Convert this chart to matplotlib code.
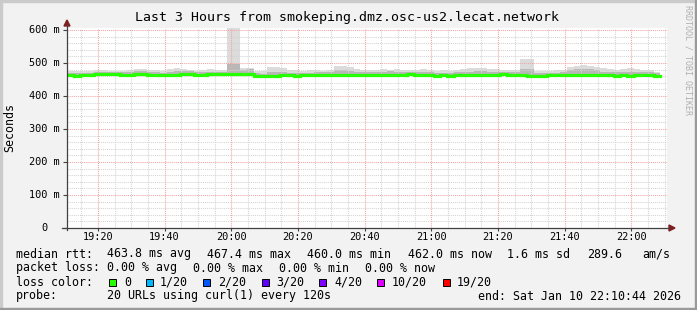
import numpy as np
import matplotlib
matplotlib.use("Agg")
import matplotlib.pyplot as plt
from matplotlib.patches import Polygon, Rectangle
from matplotlib.lines import Line2D

# %%
# data (ms), one value per 2 minute step, starting 19:10:44
medianMs = [
    462.5, 462.0, 463.0, 463.5,
    466.0, 466.0, 465.5, 466.0, 465.0, 465.0, 465.5, 466.0, 465.0, 465.0,
    464.5, 464.0, 465.0, 465.5, 466.0, 465.0, 465.0, 465.5, 466.0,
    466.0, 467.4, 467.0, 466.0, 465.5,
    461.0, 460.0, 460.5, 461.0,
    462.5, 463.0, 462.0, 462.5, 463.0, 464.0, 464.0, 465.0, 465.0, 464.5,
    465.0, 464.5,
    464.0, 464.5, 465.0, 464.0, 463.5, 464.0, 465.0, 465.5, 465.0, 464.5,
    464.0,
    462.0, 462.5, 462.0, 462.5,
    464.0, 464.5, 465.0, 465.0, 464.5, 465.0, 465.5, 465.0, 464.5, 465.0,
    462.0, 461.5, 462.0, 462.5,
    463.5, 464.0, 463.5, 462.5, 462.5, 463.0, 462.5, 464.0, 464.5,
    462.0, 462.5, 462.0,
    464.0, 464.5, 463.0, 460.0,
]

smokeLoMs = [
    458, 458, 459, 459,
    461, 461, 461, 462, 460, 460, 461, 461, 460, 460, 459, 459, 460, 461,
    461, 460, 460, 461, 461,
    461, 462, 462, 461, 460,
    455, 454, 455, 456,
    458, 458, 457, 458, 459, 459, 460, 460, 460, 460, 460, 460,
    459, 460, 460, 459, 459, 459, 460, 461, 460, 460, 459,
    457, 457, 457, 458,
    459, 460, 460, 460, 460, 460, 461, 460, 460, 460,
    456, 455, 456, 457,
    459, 459, 459, 458, 458, 458, 458, 459, 460,
    457, 458, 457,
    459, 460, 458, 455,
]

smokeHiMs = [
    477, 476, 475, 476,
    478, 478, 477,
    476, 476, 479, 482, 482, 480,
    478, 477, 483, 484, 482, 478, 477, 480, 481, 478,
    480, 606, 606, 484, 486,
    475, 476, 487, 487, 484,
    480, 478, 477, 479, 478, 477, 480,
    490, 490, 488,
    482, 480, 478, 480, 483, 478, 481, 480, 478, 479, 482, 480,
    476, 478, 477, 480,
    482, 484, 485, 484, 482, 481, 478, 480, 478,
    512, 512,
    477, 476, 476, 479, 478,
    487, 491, 493, 492, 489,
    484, 482, 480, 483, 486, 482, 480, 479, 474,
]

coreHiMs = [
    470, 470, 470, 471,
    473, 473, 472, 473, 472, 473, 475, 475, 474, 472, 471, 472, 475, 476,
    475, 472, 472, 473, 474,
    473, 497, 497, 480, 482,
    469, 468, 473, 474,
    474, 471, 470, 471, 471, 472, 472, 473, 478, 478, 476, 473,
    472, 473, 473, 474, 475, 472, 473, 474, 473, 473, 474,
    470, 471, 470, 472,
    473, 474, 476, 475, 473, 473, 473, 473, 472, 483,
    483, 470, 470, 471,
    471, 472, 479, 482, 483, 482, 479, 474, 473,
    473, 474, 472,
    474, 473, 472, 469,
]

xTickMin = [20, 40, 60, 80, 100, 120, 140, 160, 180]
xTickLabels = ["19:20", "19:40", "20:00", "20:20", "20:40",
               "21:00", "21:20", "21:40", "22:00"]
yTickSec = [0.0, 0.1, 0.2, 0.3, 0.4, 0.5, 0.6]
yTickLabels = ["0", "100 m", "200 m", "300 m", "400 m", "500 m", "600 m"]

lossColors = ["#26ff00", "#00b8ff", "#0059ff", "#5e00ff",
              "#7e00ff", "#dd00ff", "#ff0000"]
lossLabels = ["0", "1/20", "2/20", "3/20", "4/20", "10/20", "19/20"]

# %%
W, H = 697, 310
MONO = "DejaVu Sans Mono"
startMin = 10 + 44 / 60
endMin = startMin + 180
stepMin = 2.0


def fx(x):
    return x / W


def fy(y):
    return 1 - y / H


def ext(vals):
    arr = np.asarray(vals, dtype=float) / 1000.0
    return np.append(arr, arr[-1])


fig = plt.figure(figsize=(W / 100, H / 100), dpi=100, facecolor="#f2f2f2")

# 3d frame
fig.patches.append(Rectangle((0, fy(2)), 1, 2 / H, transform=fig.transFigure,
                             color="#cbcbcb", zorder=0))
fig.patches.append(Rectangle((0, 0), 2 / W, 1, transform=fig.transFigure,
                             color="#cbcbcb", zorder=0))
fig.patches.append(Rectangle((0, 0), 1, 2 / H, transform=fig.transFigure,
                             color="#999999", zorder=0))
fig.patches.append(Rectangle((fx(W - 2), 0), 2 / W, 1, transform=fig.transFigure,
                             color="#999999", zorder=0))

ax = fig.add_axes([fx(67), fy(228), 600 / W, 200 / H], facecolor="white")
ax.set_xlim(startMin, endMin)
ax.set_ylim(0, 0.60606)
for sp in ax.spines.values():
    sp.set_visible(False)

# grid
for m in np.arange(15, 191, 5):
    if m % 20 != 0:
        ax.axvline(m, color="#d4d4d4", lw=0.75, ls=(0, (1, 1)), zorder=2)
for v in np.arange(0.02, 0.605, 0.02):
    if round(v * 100) % 10 != 0:
        ax.axhline(v, color="#d4d4d4", lw=0.75, ls=(0, (1, 1)), zorder=2)
for m in xTickMin:
    ax.axvline(m, color="#f3a3a3", lw=0.75, ls=(0, (1, 1)), zorder=2)
for v in yTickSec[1:]:
    ax.axhline(v, color="#f3a3a3", lw=0.75, ls=(0, (1, 1)), zorder=2)

# smoke + median
n = len(medianMs)
edges = startMin + stepMin * np.arange(n + 1)
ax.fill_between(edges, ext(smokeLoMs), ext(smokeHiMs), step="post",
                color="#dcdcdc", lw=0, zorder=1)
ax.fill_between(edges, ext(medianMs), ext(coreHiMs), step="post",
                color="#b8b8b8", lw=0, zorder=1)
ax.step(edges, ext(medianMs), where="post", color=lossColors[0], lw=2.3,
        solid_joinstyle="miter", zorder=3)

# ticks
ax.set_xticks(xTickMin)
ax.set_xticklabels(xTickLabels, fontsize=7.4, family=MONO)
ax.tick_params(axis="x", length=2, width=0.8, color="#404040", pad=1)
ax.set_yticks(yTickSec)
ax.set_yticklabels([])
ax.tick_params(axis="y", length=3, width=0.8, color="#404040")
for v, lab in zip(yTickSec, yTickLabels):
    xr = 60 if lab != "0" else 47
    fig.text(fx(xr), fy(228 - v * 330), lab, ha="right", va="center",
             fontsize=7.4, family=MONO)

# axes + arrows
fig.add_artist(Line2D([fx(67), fx(67)], [fy(230), fy(25)], color="#404040",
                      lw=0.9, transform=fig.transFigure))
fig.add_artist(Line2D([fx(62), fx(669)], [fy(228), fy(228)], color="#404040",
                      lw=0.9, transform=fig.transFigure))
fig.add_artist(Polygon([(fx(64), fy(26)), (fx(70), fy(26)), (fx(67), fy(20))],
                       closed=True, color="#7f1f1f", transform=fig.transFigure))
fig.add_artist(Polygon([(fx(669), fy(225)), (fx(669), fy(231)), (fx(675), fy(228))],
                       closed=True, color="#7f1f1f", transform=fig.transFigure))

# titles
fig.text(fx(347), fy(18), "Last 3 Hours from smokeping.dmz.osc-us2.lecat.network",
         ha="center", va="center", fontsize=9.5, family=MONO)
fig.text(fx(10), fy(128), "Seconds", rotation=90, ha="center", va="center",
         fontsize=8.4, family=MONO)
fig.text(fx(688), fy(60), "RRDTOOL / TOBI OETIKER", rotation=270, ha="center",
         va="center", fontsize=6, family=MONO, color="#b0b0b0")

# legend
rows = {
    254: [(16, "median rtt:"), (107, "463.8 ms avg"), (207, "467.4 ms max"),
          (307, "460.0 ms min"), (408, "462.0 ms now"), (507, "1.6 ms sd"),
          (587, "289.6"), (642, "am/s")],
    268: [(16, "packet loss:"), (107, "0.00 % avg"), (193, "0.00 % max"),
          (279, "0.00 % min"), (365, "0.00 % now")],
    282: [(16, "loss color:")],
    296: [(16, "probe:"), (107, "20 URLs using curl(1) every 120s"),
          (478, "end: Sat Jan 10 22:10:44 2026")],
}
for yy, items in rows.items():
    for xx, txt in items:
        fig.text(fx(xx), fy(yy), txt, ha="left", va="center",
                 fontsize=8.4, family=MONO)

boxX = [109, 146, 203, 262, 319, 377, 443]
labX = [124, 160, 218, 276, 334, 392, 457]
for bx, lx, col, lab in zip(boxX, labX, lossColors, lossLabels):
    fig.patches.append(Rectangle((fx(bx), fy(285.5)), 7 / W, 7 / H,
                                 transform=fig.transFigure, facecolor=col,
                                 edgecolor="black", lw=0.7))
    fig.text(fx(lx), fy(282), lab, ha="left", va="center",
             fontsize=8.4, family=MONO)

fig.savefig("out.png", dpi=100, facecolor=fig.get_facecolor())
